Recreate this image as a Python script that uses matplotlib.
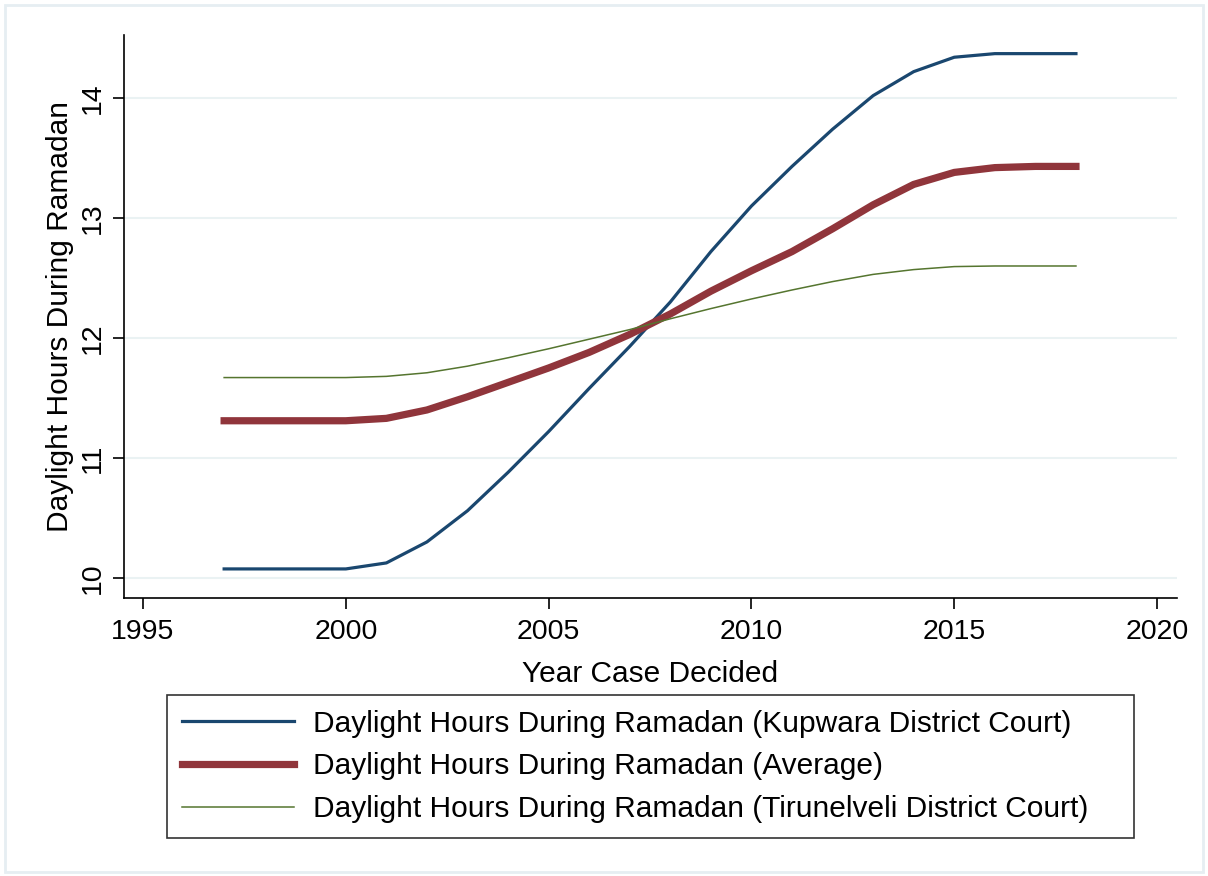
import matplotlib.pyplot as plt
from matplotlib.patches import Rectangle

years = list(range(1997, 2019))

# daylight hours
kupwara = [10.075, 10.075, 10.075, 10.075, 10.125, 10.30, 10.56, 10.88, 11.22, 11.58,
           11.93, 12.30, 12.72, 13.10, 13.43, 13.74, 14.02, 14.22, 14.34, 14.37, 14.37, 14.37]
average = [11.31, 11.31, 11.31, 11.31, 11.33, 11.40, 11.51, 11.63, 11.75, 11.88,
           12.03, 12.20, 12.39, 12.56, 12.72, 12.91, 13.11, 13.28, 13.38, 13.42, 13.43, 13.43]
tirunelveli = [11.67, 11.67, 11.67, 11.67, 11.68, 11.71, 11.765, 11.835, 11.91, 11.99,
               12.07, 12.16, 12.245, 12.325, 12.40, 12.47, 12.53, 12.57, 12.595, 12.60, 12.60, 12.60]

xticks = [1995, 2000, 2005, 2010, 2015, 2020]
yticks = [10, 11, 12, 13, 14]

plt.rcParams['font.family'] = ['Liberation Sans', 'DejaVu Sans']

fig = plt.figure(figsize=(12.08, 8.76), dpi=100)
ax = fig.add_axes([0.1026, 0.3174, 0.8717, 0.6426])

ax.plot(years, kupwara, color='#1a476f', linewidth=2.3,
        label='Daylight Hours During Ramadan (Kupwara District Court)')
ax.plot(years, average, color='#90353b', linewidth=5.2,
        label='Daylight Hours During Ramadan (Average)')
ax.plot(years, tirunelveli, color='#55752f', linewidth=1.1,
        label='Daylight Hours During Ramadan (Tirunelveli District Court)')

ax.set_xlim(1994.53, 2020.49)
ax.set_ylim(9.833, 14.525)
ax.set_xticks(xticks)
ax.set_yticks(yticks)
ax.set_yticklabels([str(t) for t in yticks], rotation=90, va='center')
ax.tick_params(axis='both', labelsize=20.5, length=8, width=1.2, color='black')
ax.tick_params(axis='x', pad=7)
ax.tick_params(axis='y', pad=5)
ax.grid(axis='y', color='#eaf2f3', linewidth=1.5)
ax.set_axisbelow(True)
for s in ['top', 'right']:
    ax.spines[s].set_visible(False)
for s in ['left', 'bottom']:
    ax.spines[s].set_linewidth(1.2)

ax.set_xlabel('Year Case Decided', fontsize=21.5, labelpad=11)
ax.set_ylabel('Daylight Hours During Ramadan', fontsize=21.5, labelpad=4)

leg = fig.legend(loc='center', bbox_to_anchor=(0.138, 0.0457, 0.801, 0.1586),
                 bbox_transform=fig.transFigure, mode='expand', fontsize=21.5,
                 frameon=True, fancybox=False, edgecolor='black',
                 handlelength=3.75, handletextpad=0.65, labelspacing=0.5,
                 borderpad=0.5, borderaxespad=0)
leg.get_frame().set_linewidth(1.2)

# light outer frame like the original export
fig.patches.append(Rectangle((0.004, 0.004), 0.992, 0.99, transform=fig.transFigure,
                             fill=False, edgecolor='#e6eef2', linewidth=2))

fig.savefig('out.png', dpi=100)
